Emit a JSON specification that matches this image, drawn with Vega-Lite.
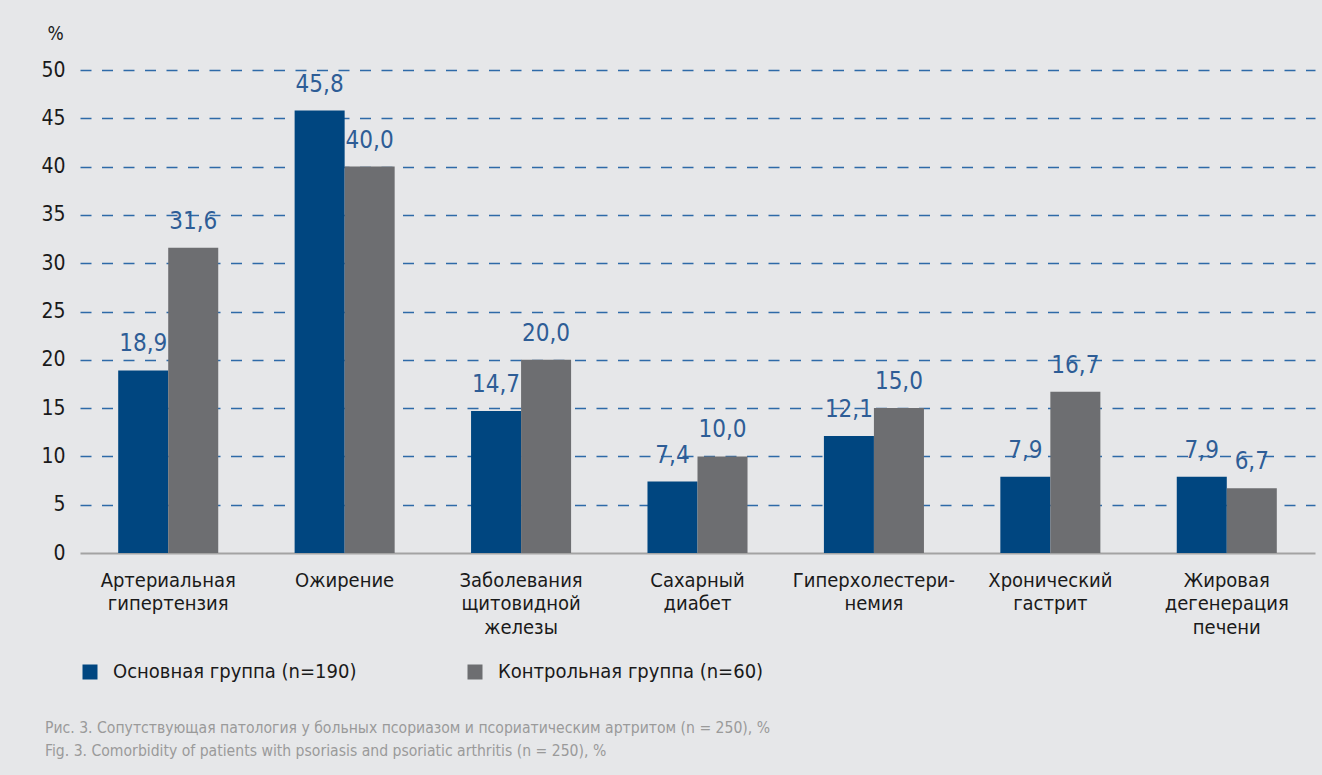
{
  "$schema": "https://vega.github.io/schema/vega-lite/v6.json",
  "width": 1235,
  "height": 483,
  "autosize": {"type": "none"},
  "padding": {"left": 80, "top": 70, "right": 7, "bottom": 222},
  "background": "#e6e7e9",
  "config": {
    "view": {"stroke": null},
    "font": "'DejaVu Sans Condensed', Roboto, sans-serif",
    "locale": {"number": {"decimal": ",", "thousands": " ", "grouping": [3], "currency": ["", ""]}}
  },
  "data": {
    "values": [
      {"cat": "Артериальная|гипертензия", "group": "Основная группа (n=190)", "value": 18.9},
      {"cat": "Артериальная|гипертензия", "group": "Контрольная группа (n=60)", "value": 31.6},
      {"cat": "Ожирение", "group": "Основная группа (n=190)", "value": 45.8},
      {"cat": "Ожирение", "group": "Контрольная группа (n=60)", "value": 40.0},
      {"cat": "Заболевания|щитовидной|железы", "group": "Основная группа (n=190)", "value": 14.7},
      {"cat": "Заболевания|щитовидной|железы", "group": "Контрольная группа (n=60)", "value": 20.0},
      {"cat": "Сахарный|диабет", "group": "Основная группа (n=190)", "value": 7.4},
      {"cat": "Сахарный|диабет", "group": "Контрольная группа (n=60)", "value": 10.0},
      {"cat": "Гиперхолестери-|немия", "group": "Основная группа (n=190)", "value": 12.1},
      {"cat": "Гиперхолестери-|немия", "group": "Контрольная группа (n=60)", "value": 15.0},
      {"cat": "Хронический|гастрит", "group": "Основная группа (n=190)", "value": 7.9},
      {"cat": "Хронический|гастрит", "group": "Контрольная группа (n=60)", "value": 16.7},
      {"cat": "Жировая|дегенерация|печени", "group": "Основная группа (n=190)", "value": 7.9},
      {"cat": "Жировая|дегенерация|печени", "group": "Контрольная группа (n=60)", "value": 6.7}
    ]
  },
  "title": {
    "text": [
      "Рис. 3. Сопутствующая патология у больных псориазом и псориатическим артритом (n = 250), %",
      "Fig. 3. Comorbidity of patients with psoriasis and psoriatic arthritis (n = 250), %"
    ],
    "orient": "bottom",
    "anchor": "start",
    "frame": "group",
    "fontSize": 15.6,
    "fontWeight": "normal",
    "color": "#9a9a9a",
    "lineHeight": 23,
    "dx": -35,
    "offset": 39
  },
  "encoding": {
    "x": {
      "field": "cat",
      "type": "nominal",
      "sort": ["Артериальная|гипертензия", "Ожирение", "Заболевания|щитовидной|железы", "Сахарный|диабет", "Гиперхолестери-|немия", "Хронический|гастрит", "Жировая|дегенерация|печени"],
      "scale": {"paddingInner": 0.433, "paddingOuter": 0.2165},
      "axis": {
        "title": null,
        "labelExpr": "split(datum.label, '|')",
        "labelAngle": 0,
        "labelFontSize": 20,
        "labelColor": "#1a1a1a",
        "labelLineHeight": 23.5,
        "labelPadding": 17,
        "labelLimit": 300,
        "ticks": false,
        "domain": true,
        "domainColor": "#a3a3a3",
        "domainWidth": 2
      }
    },
    "xOffset": {
      "field": "group",
      "sort": ["Основная группа (n=190)", "Контрольная группа (n=60)"],
      "scale": {"paddingInner": 0, "paddingOuter": 0}
    },
    "y": {
      "field": "value",
      "type": "quantitative",
      "scale": {"domain": [0, 50], "nice": false},
      "axis": {
        "values": [0, 5, 10, 15, 20, 25, 30, 35, 40, 45, 50],
        "title": "%",
        "titleAngle": 0,
        "titleX": -25,
        "titleY": -37,
        "titleFontSize": 19,
        "titleFontWeight": "normal",
        "titleColor": "#1a1a1a",
        "titleAlign": "center",
        "titleBaseline": "middle",
        "labelFontSize": 21,
        "labelColor": "#1a1a1a",
        "labelPadding": 15,
        "ticks": false,
        "domain": false,
        "grid": true,
        "gridColor": "#2e6aa8",
        "gridDash": [11, 10.5],
        "gridWidth": 1.5,
        "gridOpacity": {"condition": {"test": "datum.value === 0", "value": 0}, "value": 1}
      }
    }
  },
  "layer": [
    {
      "mark": {"type": "bar"},
      "encoding": {
        "color": {
          "field": "group",
          "type": "nominal",
          "scale": {"domain": ["Основная группа (n=190)", "Контрольная группа (n=60)"], "range": ["#004680", "#6d6e71"]},
          "legend": {
            "orient": "none",
            "legendX": 0,
            "legendY": 592,
            "direction": "horizontal",
            "title": null,
            "symbolType": "square",
            "symbolSize": 225,
            "symbolStrokeWidth": 0,
            "labelFontSize": 20,
            "labelColor": "#1a1a1a",
            "labelLimit": 400,
            "labelOffset": 13,
            "columnPadding": 108,
            "padding": 0
          }
        }
      }
    },
    {
      "mark": {"type": "text", "dy": -19, "baseline": "alphabetic", "fontSize": 24, "color": "#2e5d96"},
      "encoding": {
        "text": {"field": "value", "type": "quantitative", "format": ".1f"}
      }
    }
  ]
}
